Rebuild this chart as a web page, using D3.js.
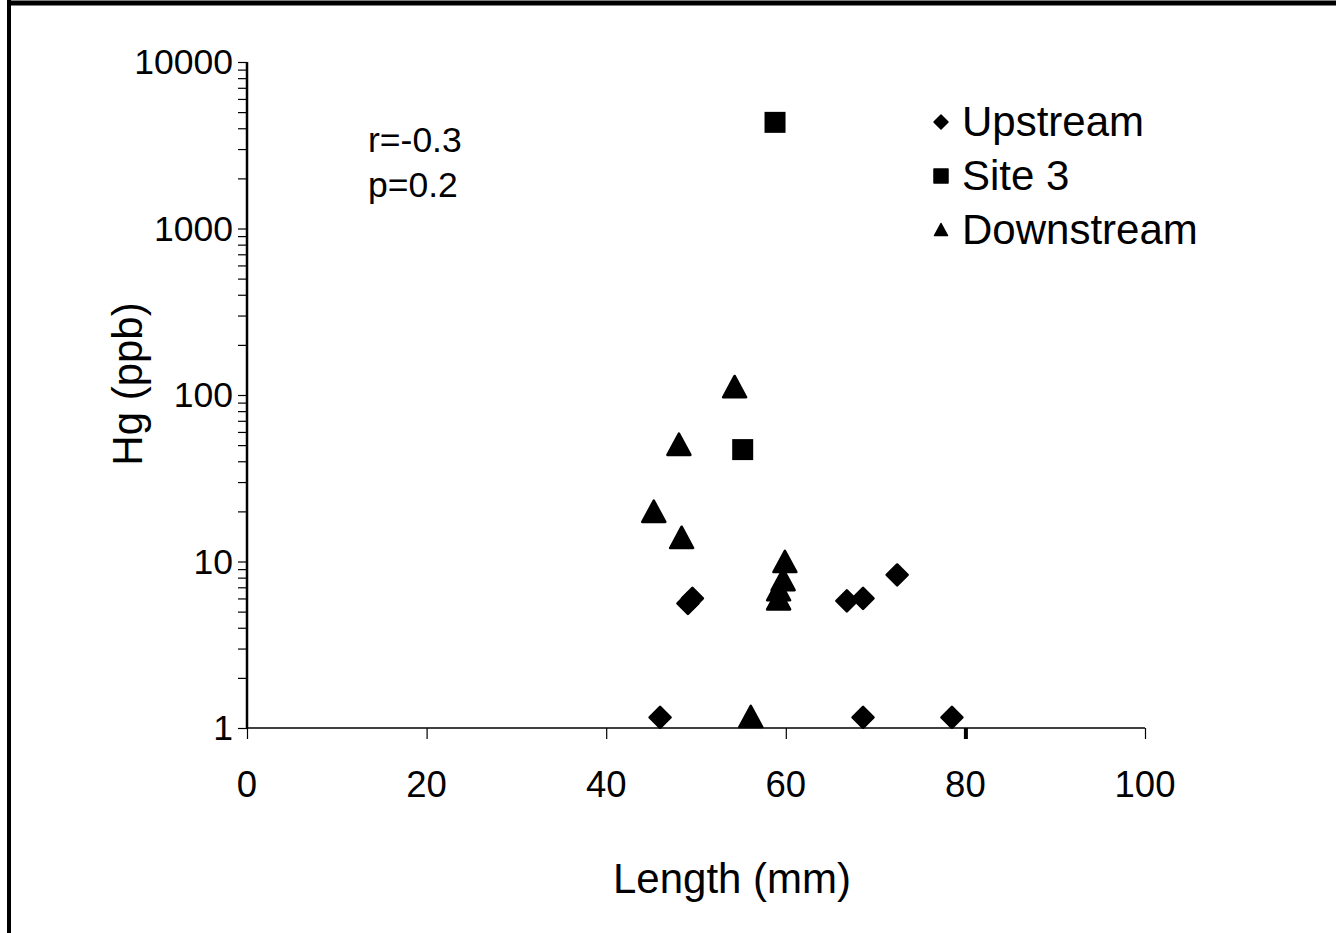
<!DOCTYPE html>
<html>
<head>
<meta charset="utf-8">
<script src="https://cdn.jsdelivr.net/npm/d3@7"></script>
<style>
    html, body { margin: 0; padding: 0; background: #fff; }
    svg { display: block; font-family: "Liberation Sans", Arial, sans-serif; }
</style>
</head>
<body>
<svg id="mainChart" width="1336" height="933"></svg>
<script>
// values
const upstreamLength = [46.0, 49.1, 49.6, 66.8, 68.6, 72.4, 68.6, 78.5];
const upstreamHg = [1.16, 5.6, 6.0, 5.8, 6.0, 8.3, 1.16, 1.16];

const site3Length = [55.2, 58.8];
const site3Hg = [47, 4340];

const downstreamLength = [54.3, 48.1, 45.3, 48.4, 59.9, 59.7, 59.2, 59.2, 56.1];
const downstreamHg = [111, 50, 19.8, 13.8, 9.9, 7.7, 6.7, 5.9, 1.16];

const xTicks = [0, 20, 40, 60, 80, 100];
const yTicks = [1, 10, 100, 1000, 10000];
const seriesNames = ["Upstream", "Site 3", "Downstream"];
const statsLines = ["r=-0.3", "p=0.2"];

const svg = d3.select("#mainChart");

const scaleX = d3.scaleLinear().domain([0, 100]).range([247, 1145]);
const scaleY = d3.scaleLog().domain([1, 10000]).range([728, 62]);

// frame round the picture
svg.append("line").attr("x1", 7).attr("x2", 1336).attr("y1", 3).attr("y2", 3)
    .attr("stroke", "#000").attr("stroke-width", 5);
svg.append("line").attr("x1", 9).attr("x2", 9).attr("y1", 0).attr("y2", 933)
    .attr("stroke", "#000").attr("stroke-width", 4);

// marker shapes
function diamond(s) {
    return `M0,${-s}L${s},0L0,${s}L${-s},0Z`;
}
function square(s) {
    return `M${-s},${-s}H${s}V${s}H${-s}Z`;
}
function triangle(s) {
    return `M0,${-s}L${s},${s * 0.85}L${-s},${s * 0.85}Z`;
}

// y axis with log minor ticks
const minorTicks = [];
for (let d = 1; d < 10000; d *= 10) {
    for (let k = 1; k < 10; k++) minorTicks.push(d * k);
}
minorTicks.push(10000);

const axisY = d3.axisLeft(scaleY).tickValues(minorTicks).tickSize(9).tickFormat("");
const gY = svg.append("g").attr("transform", "translate(247,0)").call(axisY);
gY.select(".domain").attr("stroke", "#000").attr("stroke-width", 2.5).attr("d", "M0,62V728");
gY.selectAll(".tick line").attr("stroke", "#000").attr("stroke-width", 1.2);

svg.append("g")
    .selectAll("text")
    .data(yTicks)
    .join("text")
    .attr("x", 233)
    .attr("y", d => scaleY(d) + 12)
    .attr("text-anchor", "end")
    .attr("font-size", 35.5)
    .text(d => d);

// x axis
const axisX = d3.axisBottom(scaleX).tickValues(xTicks).tickSize(11).tickFormat("");
const gX = svg.append("g").attr("transform", "translate(0,728)").call(axisX);
gX.select(".domain").attr("stroke", "#000").attr("stroke-width", 1.5).attr("d", "M247,0H1145");
gX.selectAll(".tick line").attr("stroke", "#000").attr("stroke-width", d => d === 80 ? 4 : 1.2);

svg.append("g")
    .selectAll("text")
    .data(xTicks)
    .join("text")
    .attr("x", d => scaleX(d))
    .attr("y", 797)
    .attr("text-anchor", "middle")
    .attr("font-size", 36.5)
    .text(d => d);

// axis titles
svg.append("text")
    .attr("x", 732)
    .attr("y", 893)
    .attr("text-anchor", "middle")
    .attr("font-size", 42)
    .text("Length (mm)");

svg.append("text")
    .attr("transform", "translate(142,384) rotate(-90)")
    .attr("text-anchor", "middle")
    .attr("font-size", 42)
    .text("Hg (ppb)");

// stats note
svg.append("g")
    .selectAll("text")
    .data(statsLines)
    .join("text")
    .attr("x", 368)
    .attr("y", (d, i) => 152 + i * 45)
    .attr("font-size", 35.5)
    .text(d => d);

// points
const markerStyle = sel => sel
    .attr("fill", "#000")
    .attr("stroke", "#000")
    .attr("stroke-width", 2.5)
    .attr("stroke-linejoin", "round");

svg.append("g")
    .selectAll("path")
    .data(d3.zip(upstreamLength, upstreamHg))
    .join("path")
    .attr("d", diamond(10.5))
    .attr("transform", d => `translate(${scaleX(d[0])},${scaleY(d[1])})`)
    .call(markerStyle);

svg.append("g")
    .selectAll("path")
    .data(d3.zip(site3Length, site3Hg))
    .join("path")
    .attr("d", square(10.5))
    .attr("transform", d => `translate(${scaleX(d[0])},${scaleY(d[1])})`)
    .attr("fill", "#000");

svg.append("g")
    .selectAll("path")
    .data(d3.zip(downstreamLength, downstreamHg))
    .join("path")
    .attr("d", triangle(11.5))
    .attr("transform", d => `translate(${scaleX(d[0])},${scaleY(d[1])})`)
    .call(markerStyle);

// legend
const legendShapes = [diamond(7), square(7), triangle(6.5)];
const legend = svg.append("g")
    .selectAll("g")
    .data(seriesNames)
    .join("g")
    .attr("transform", (d, i) => `translate(941,${122 + i * 54})`);

legend.append("path")
    .attr("d", (d, i) => legendShapes[i])
    .call(markerStyle)
    .attr("stroke-width", 1.5);

legend.append("text")
    .attr("x", 21)
    .attr("y", 14)
    .attr("font-size", 42)
    .text(d => d);
</script>
</body>
</html>
